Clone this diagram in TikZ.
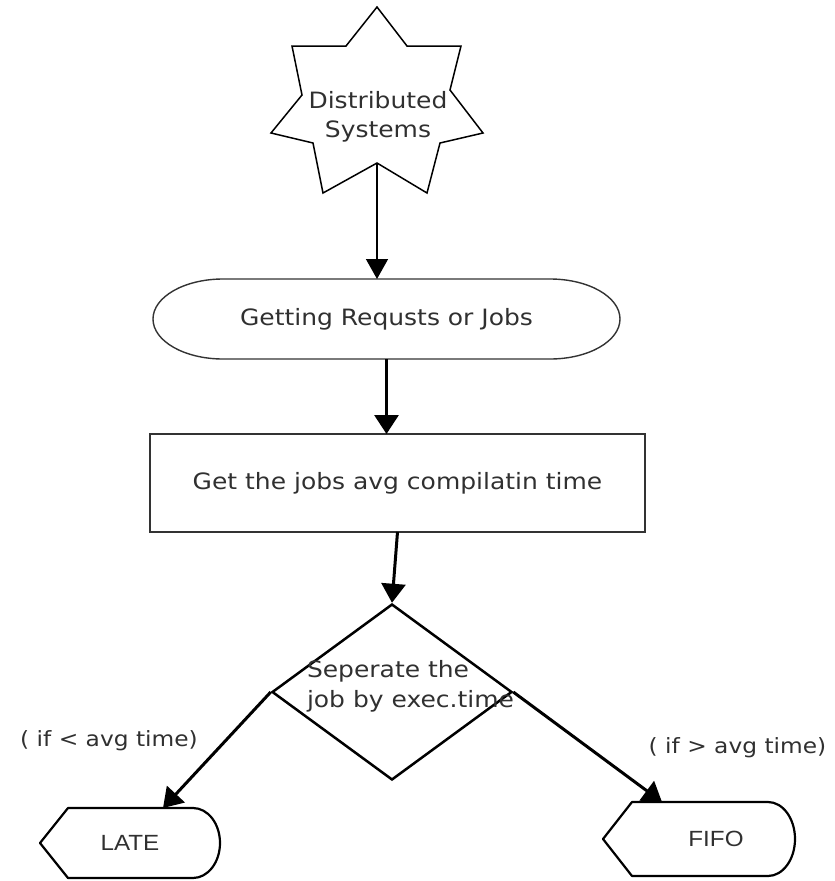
\documentclass[tikz,border=0pt]{standalone}
\usepackage{fontspec}
\setmainfont{DejaVu Sans}[FakeStretch=1.11]
\newfontfamily\arialf{Liberation Sans}[FakeStretch=1.1]
\usetikzlibrary{arrows.meta,shapes.geometric,calc}
\definecolor{txt}{HTML}{303030}
\begin{document}
\begin{tikzpicture}[x=1pt,y=-1pt,
  lbl/.style={text=txt, inner sep=0, outer sep=0, font=\fontsize{22.5}{30}\selectfont},
  small/.style={text=txt, inner sep=0, outer sep=0, font=\fontsize{21}{25}\selectfont},
  endbox/.style={text=txt, inner sep=0, outer sep=0, font=\arialf\fontsize{22}{26}\selectfont},
  thinarrow/.style={line width=1.5pt, -{Triangle[length=20pt,width=22pt]}},
  thickarrow/.style={line width=3pt, -{Triangle[length=19pt,width=24pt]}},
  outline/.style={line width=1.4pt, draw=black!80},
  endline/.style={line width=2.2pt, line join=round}
]
\useasboundingbox (0,0) rectangle (835,881);

% star
\draw[line width=1.5pt, line join=miter] (377,7) -- (407,46) -- (461,46) -- (450,90) -- (483,133) -- (440,143) -- (427,193) -- (377,163) -- (323,193) -- (313,143) -- (271,133) -- (302,95) -- (292,46) -- (346,46) -- cycle;
\node[lbl, align=center, font=\fontsize{22.5}{29}\selectfont] (star) at (378,116.5) {Distributed\\Systems};
\coordinate (starb) at (377,163);

% stadium
\node[lbl, minimum width=467pt, minimum height=80pt] (ell) at (386.5,319) {Getting Requsts or Jobs};
\draw[outline] ($(ell.north west)+(70,0)$) -- ($(ell.north east)+(-70,0)$)
  arc[start angle=90,end angle=-90,x radius=70pt,y radius=40pt]
  -- ($(ell.south west)+(70,0)$)
  arc[start angle=270,end angle=90,x radius=70pt,y radius=40pt] -- cycle;

% rectangle
\node[lbl, outline, minimum width=495pt, minimum height=98pt] (rect) at (397.5,483) {Get the jobs avg compilatin time};

% diamond
\node[diamond, draw, line width=2.5pt, minimum width=240pt, minimum height=176pt, inner sep=0] (dia) at (392,692) {};
\node[lbl, anchor=west, align=left] (diatxt) at (307,686) {Seperate the\\job by exec.time};

% end boxes
\node[endbox, minimum width=180pt, minimum height=70pt] (late) at (130,843) {LATE};
\draw[endline] ($(late.north west)+(28,0)$) -- ($(late.north east)+(-27,0)$)
  arc[start angle=90,end angle=-90,x radius=27pt,y radius=35pt]
  -- ($(late.south west)+(28,0)$) -- (late.west) -- cycle;

\node[endbox, minimum width=192pt, minimum height=74pt] (fifo) at (699,839) {\hspace*{34pt}FIFO};
\draw[endline] ($(fifo.north west)+(29,0)$) -- ($(fifo.north east)+(-27,0)$)
  arc[start angle=90,end angle=-90,x radius=27pt,y radius=37pt]
  -- ($(fifo.south west)+(29,0)$) -- (fifo.west) -- cycle;

% labels
\node[small, anchor=base] (ltl) at (109,746) {( if < avg time)};
\node[small, anchor=base] (gtl) at (737.5,753) {( if > avg time)};

% connectors
\draw[thinarrow] (starb) -- (starb |- ell.north);
\draw[thickarrow] (ell.south) -- (ell.south |- rect.north);
\draw[thickarrow] (rect.south) -- (dia.north);
\draw[thickarrow] (dia.west) -- ($(late.north west)+(123,0)$);
\draw[thickarrow] (dia.east) -- ($(fifo.north west)+(59,0)$);
\end{tikzpicture}
\end{document}
